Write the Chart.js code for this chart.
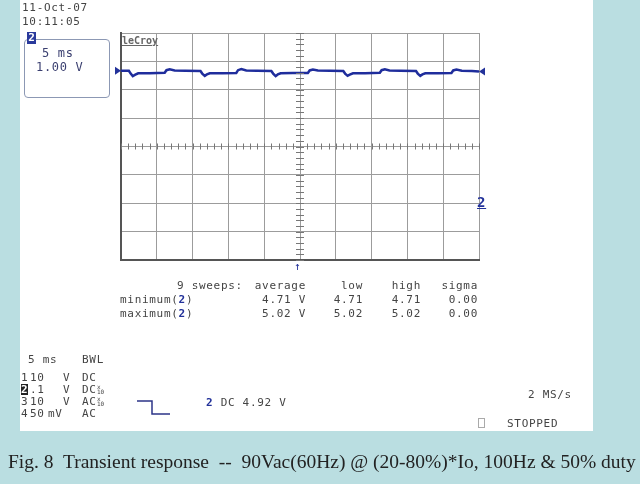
<!DOCTYPE html>
<html>
<head>
<meta charset="utf-8">
<script src="https://cdn.jsdelivr.net/npm/chart.js@4/dist/chart.umd.min.js"></script>
<style>
  body { margin: 0; width: 640px; height: 484px; overflow: hidden; background: #badee1; position: relative; }
  #panel { position: absolute; left: 20px; top: 0; width: 573px; height: 431px; background: #fff; }
  #scope { position: absolute; left: 0; top: 0; }
  .t { position: absolute; font-family: "DejaVu Sans Mono", monospace; font-size: 11px; line-height: 11px;
       color: #444; white-space: pre; letter-spacing: 0.7px; }
  .r { text-align: right; }
  .blue { color: #23329a; font-weight: bold; }
  .inv { background: #222; color: #fff; font-weight: bold; letter-spacing: 0; }
  #vbox { position: absolute; left: 24px; top: 39px; width: 84px; height: 57px; border: 1.5px solid #8c98b4; border-radius: 4px; }
  #badge { position: absolute; left: 27px; top: 32px; width: 9px; height: 12px; background: #2a3a9c; color: #fff;
           font: bold 11px "DejaVu Sans Mono"; line-height: 12px; text-align: center; }
  #caption { position: absolute; left: 8px; top: 451px; font-family: "Liberation Serif", serif; font-size: 19.5px;
             color: #222; white-space: pre; }
</style>
</head>
<body>
<div id="panel"></div>
<canvas id="scope" width="640" height="484"></canvas>

<div class="t" style="left:22px;top:2px">11-Oct-07</div>
<div class="t" style="left:22px;top:16px">10:11:05</div>
<div id="vbox"></div>
<div id="badge">2</div>
<div class="t" style="left:42px;top:48px;font-size:12px;color:#3a3f70">5 ms</div>
<div class="t" style="left:36px;top:62px;font-size:12px;color:#3a3f70">1.00 V</div>
<div class="t" style="left:122px;top:35px;font-size:10px;letter-spacing:0;color:#666;font-weight:bold;text-decoration:underline">leCroy</div>

<div class="t blue" style="left:477px;top:197px;font-size:14px;text-decoration:underline">2</div>
<div class="t" style="left:294px;top:261px;color:#23329a">↑</div>

<div id="stats"></div>
<div id="chans"></div>

<div class="t" style="left:28px;top:354px">5 ms</div>
<div class="t" style="left:82px;top:354px">BWL</div>
<div class="t" style="left:206px;top:397px"><span class="blue">2</span> DC 4.92 V</div>
<div class="t" style="left:528px;top:389px">2 MS/s</div>
<div style="position:absolute;left:478px;top:418px;width:5px;height:8px;border:1px solid #aaa"></div>
<div class="t" style="left:507px;top:418px">STOPPED</div>

<div id="caption">Fig. 8  Transient response  --  90Vac(60Hz) @ (20-80%)*Io, 100Hz &amp; 50% duty</div>

<script>
// trace: time in ms (5 ms/div), level in divisions
const traceT = [0, 1.1, 1.35, 1.65, 2.0, 2.4, 4.0, 6.1, 6.35, 6.8, 7.5, 9.0, 11.1,
  11.35, 11.7, 12.0, 12.4, 14.2, 16.1, 16.35, 16.8, 17.5, 19.0, 21.0,
  21.25, 21.6, 21.9, 22.3, 24.0, 26.1, 26.35, 26.8, 27.5, 29.2, 31.05,
  31.3, 31.65, 31.95, 32.4, 34.1, 36.15, 36.4, 36.85, 37.5, 39.0, 41.2,
  41.45, 41.8, 42.1, 42.5, 44.3, 46.15, 46.4, 46.85, 47.6, 49.0, 50]
const traceV = [2.67, 2.67, 2.57, 2.48, 2.53, 2.58, 2.58, 2.60, 2.69, 2.72, 2.68, 2.67, 2.66,
  2.57, 2.49, 2.54, 2.58, 2.58, 2.59, 2.69, 2.73, 2.68, 2.67, 2.66,
  2.57, 2.48, 2.54, 2.58, 2.59, 2.59, 2.68, 2.71, 2.68, 2.67, 2.66,
  2.57, 2.49, 2.53, 2.58, 2.58, 2.60, 2.69, 2.72, 2.68, 2.67, 2.66,
  2.57, 2.49, 2.54, 2.58, 2.58, 2.59, 2.68, 2.71, 2.67, 2.66, 2.64]

// measurement table
const statHeads = ['average', 'low', 'high', 'sigma']
const statRows = ['minimum', 'maximum']
const minVals = ['4.71 V', '4.71', '4.71', '0.00']
const maxVals = ['5.02 V', '5.02', '5.02', '0.00']

// channel setup lines
const chanNum = ['1', '2', '3', '4']
const chanScale = ['10', '.1', '10', '50']
const chanUnit = ['V', 'V', 'V', 'mV']
const chanCoupling = ['DC', 'DC', 'AC', 'AC']

/*
 * text blocks under the grid
 */
const stats = document.getElementById('stats')
const colRight = [306, 363, 421, 478]
let html = '<div class="t" style="left:177px;top:280px">9 sweeps:</div>'
statHeads.forEach((h, i) => {
  html += `<div class="t r" style="right:${640 - colRight[i]}px;top:280px">${h}</div>`
})
;[minVals, maxVals].forEach((vals, r) => {
  const top = 294 + r * 14
  html += `<div class="t" style="left:120px;top:${top}px">${statRows[r]}(<span class="blue">2</span>)</div>`
  vals.forEach((v, i) => {
    html += `<div class="t r" style="right:${640 - colRight[i]}px;top:${top}px">${v}</div>`
  })
})
stats.innerHTML = html

const chans = document.getElementById('chans')
html = ''
chanNum.forEach((n, i) => {
  const top = 372 + i * 12
  const cls = n === '2' ? 't inv' : 't'
  html += `<div class="${cls}" style="left:21px;top:${top}px">${n}</div>`
  html += `<div class="t" style="left:30px;top:${top}px">${chanScale[i]}</div>`
  html += `<div class="t" style="left:${chanUnit[i] === 'mV' ? 48 : 63}px;top:${top}px">${chanUnit[i]}</div>`
  html += `<div class="t" style="left:82px;top:${top}px">${chanCoupling[i]}</div>`
  if (i === 1 || i === 2) {
    html += `<div class="t" style="left:97px;top:${top}px;font-size:6px;line-height:5px;letter-spacing:0">x<br>10</div>`
  }
})
chans.innerHTML = html

/*
 * extra scope marks: centre-line ticks, level markers, trigger glyph
 */
const scopeDecor = {
  id: 'scopeDecor',
  afterDraw(chart) {
    const ctx = chart.ctx
    const xs = chart.scales.x
    const ys = chart.scales.y
    const cx = xs.getPixelForValue(25)
    const cy = ys.getPixelForValue(0)
    ctx.save()
    ctx.strokeStyle = '#777'
    ctx.lineWidth = 1
    ctx.beginPath()
    for (let t = 0; t <= 50; t += 1) {
      const px = Math.round(xs.getPixelForValue(t)) + 0.5
      ctx.moveTo(px, cy - 3)
      ctx.lineTo(px, cy + 3)
    }
    for (let v = -40; v <= 40; v += 2) {
      const py = Math.round(ys.getPixelForValue(v / 10)) + 0.5
      ctx.moveTo(cx - 4, py)
      ctx.lineTo(cx + 4, py)
    }
    ctx.stroke()

    // level markers at both ends of the trace
    const ly = ys.getPixelForValue(traceV[0])
    const ry = ys.getPixelForValue(traceV[traceV.length - 1])
    ctx.fillStyle = '#23329a'
    ctx.beginPath()
    ctx.moveTo(xs.left - 6, ly - 4)
    ctx.lineTo(xs.left, ly)
    ctx.lineTo(xs.left - 6, ly + 4)
    ctx.fill()
    ctx.beginPath()
    ctx.moveTo(xs.right + 6, ry - 4)
    ctx.lineTo(xs.right, ry)
    ctx.lineTo(xs.right + 6, ry + 4)
    ctx.fill()

    // trigger slope glyph
    ctx.strokeStyle = '#2c3488'
    ctx.lineWidth = 1.5
    ctx.beginPath()
    ctx.moveTo(137, 401)
    ctx.lineTo(152, 401)
    ctx.lineTo(152, 414)
    ctx.lineTo(170, 414)
    ctx.stroke()
    ctx.restore()
  }
}

const scopeCtx = document.getElementById('scope').getContext('2d')

const scopeChart = new Chart(scopeCtx, {
  type: 'line',
  data: {
    datasets: [{
      data: traceT.map((t, i) => ({ x: t, y: traceV[i] })),
      borderColor: '#1f2d9c',
      borderWidth: 2.5,
      pointRadius: 0,
      tension: 0,
      fill: false
    }]
  },
  options: {
    responsive: false,
    animation: false,
    layout: { padding: { left: 121, top: 33, right: 161, bottom: 224 } },
    plugins: { legend: { display: false }, tooltip: { enabled: false } },
    scales: {
      x: {
        type: 'linear', min: 0, max: 50,
        ticks: { display: false, stepSize: 5 },
        grid: { color: '#9c9c9c', lineWidth: 1, drawTicks: false },
        border: { color: '#555', width: 2 }
      },
      y: {
        type: 'linear', min: -4, max: 4,
        ticks: { display: false, stepSize: 1 },
        grid: { color: '#9c9c9c', lineWidth: 1, drawTicks: false },
        border: { color: '#555', width: 2 }
      }
    }
  },
  plugins: [scopeDecor]
})
</script>
</body>
</html>
